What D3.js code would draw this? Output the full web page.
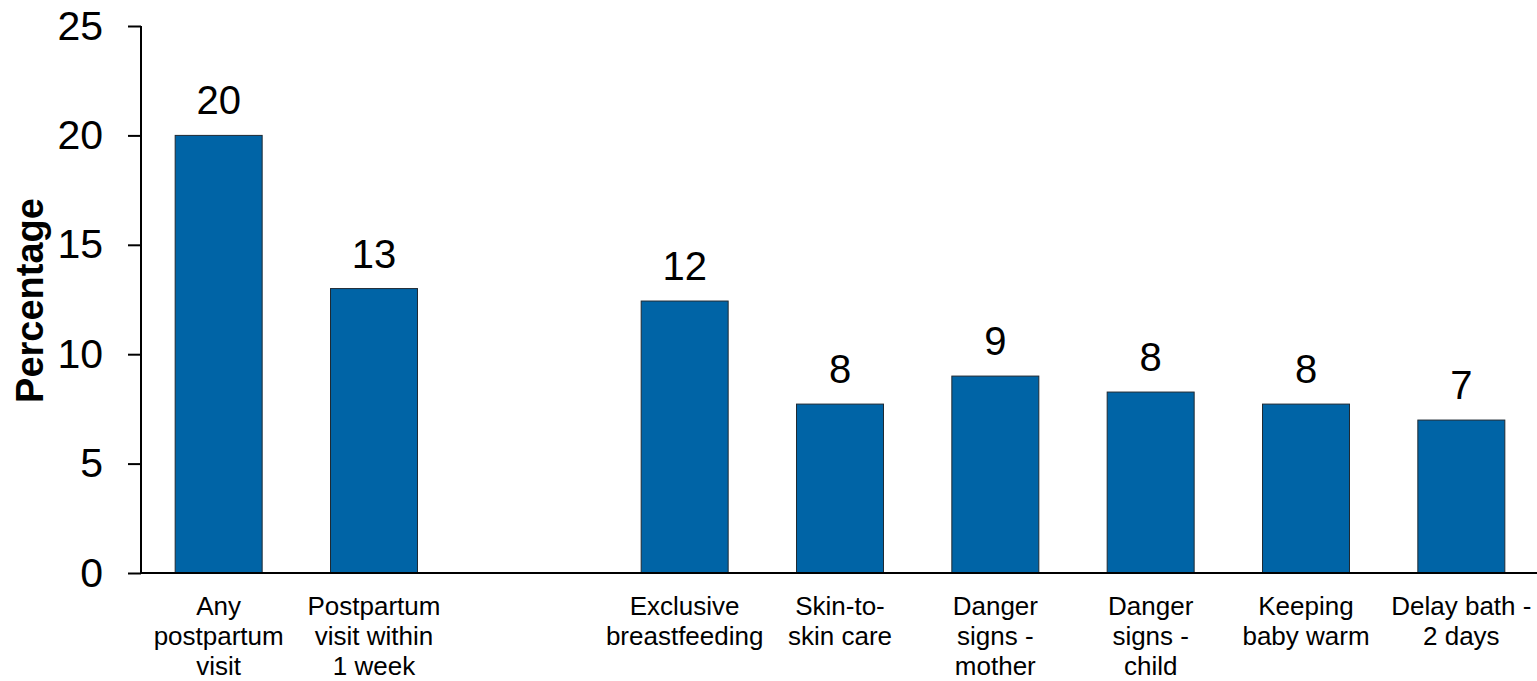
<!DOCTYPE html>
<html>
<head>
<meta charset="utf-8">
<script src="https://cdn.jsdelivr.net/npm/d3@7"></script>
<style>
  html, body { margin: 0; padding: 0; background: #fff; }
  svg { display: block; font-family: "Liberation Sans", Arial, sans-serif; }
</style>
</head>
<body>
<svg id="chart" width="1537" height="681"></svg>
<script>
// ---- Data ----
const categories = [
  "Any\npostpartum\nvisit",
  "Postpartum\nvisit within\n1 week",
  "",
  "Exclusive\nbreastfeeding",
  "Skin-to-\nskin care",
  "Danger\nsigns -\nmother",
  "Danger\nsigns -\nchild",
  "Keeping\nbaby warm",
  "Delay bath -\n2 days"
];
const values = [20, 13, null, 12.43, 7.72, 9.0, 8.27, 7.72, 6.99];
const yTicks = [0, 5, 10, 15, 20, 25];
const yTitle = "Percentage";

// ---- Layout ----
const svg = d3.select("#chart");
const mLeft = 141, mRight = 1539, mTop = 26, mBottom = 573;

const x = d3.scaleBand()
  .domain(categories.map((c, i) => i))
  .range([mLeft, mRight])
  .paddingInner(0.44)
  .paddingOuter(0.22);

const y = d3.scaleLinear().domain([0, 25]).range([mBottom, mTop]);

const data = categories.map((c, i) => ({ i, c, v: values[i] }));

// Bars
svg.append("g").selectAll("rect")
  .data(data.filter(d => d.v != null))
  .join("rect")
  .attr("x", d => x(d.i))
  .attr("y", d => y(d.v))
  .attr("width", x.bandwidth())
  .attr("height", d => y(0) - y(d.v))
  .attr("fill", "#0064A6")
  .attr("stroke", "#1f2a33")
  .attr("stroke-width", 1);

// Value labels
svg.append("g").selectAll("text")
  .data(data.filter(d => d.v != null))
  .join("text")
  .attr("x", d => x(d.i) + x.bandwidth() / 2)
  .attr("y", d => y(d.v) - 21)
  .attr("text-anchor", "middle")
  .attr("font-size", 40)
  .attr("fill", "#000")
  .text(d => d3.format(".0f")(d.v));

// Y axis
const yAxis = d3.axisLeft(y).tickValues(yTicks).tickSize(13).tickPadding(25);
const gy = svg.append("g").attr("transform", `translate(${mLeft},0)`).call(yAxis);
gy.select(".domain").attr("stroke", "#000").attr("stroke-width", 2)
  .attr("d", `M0,${mTop}V${mBottom}`);
gy.selectAll(".tick line").attr("stroke", "#000").attr("stroke-width", 2);
gy.selectAll(".tick text").attr("font-size", 41).attr("fill", "#000")
  .attr("font-family", "'Liberation Sans', Arial, sans-serif");

// X axis line
const xAxis = d3.axisBottom(x).tickSize(0).tickFormat(() => "");
const gx = svg.append("g").attr("transform", `translate(0,${mBottom})`).call(xAxis);
gx.select(".domain").attr("stroke", "#000").attr("stroke-width", 2)
  .attr("d", `M${mLeft},0H1537`);

// Category labels (multi-line)
const catG = svg.append("g");
data.forEach(d => {
  if (!d.c) return;
  const lines = d.c.split("\n");
  const cx = x(d.i) + x.bandwidth() / 2;
  const t = catG.append("text")
    .attr("text-anchor", "middle")
    .attr("font-size", 26)
    .attr("fill", "#000")
    .attr("x", cx)
    .attr("y", mBottom + 42);
  lines.forEach((ln, k) => {
    t.append("tspan")
      .attr("x", cx)
      .attr("dy", k === 0 ? 0 : 30)
      .text(ln);
  });
});

// Y title
svg.append("text")
  .attr("transform", `translate(43,${(mTop + mBottom) / 2 + 1}) rotate(-90)`)
  .attr("text-anchor", "middle")
  .attr("font-size", 38)
  .attr("font-weight", "bold")
  .attr("fill", "#000")
  .text(yTitle);
</script>
</body>
</html>
